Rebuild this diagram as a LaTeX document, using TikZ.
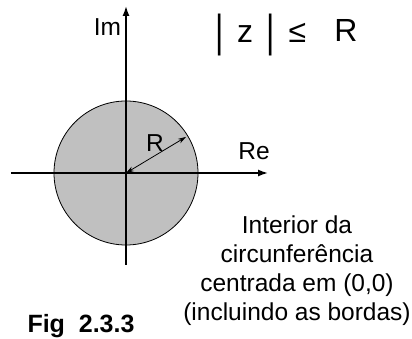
\documentclass[tikz,border=0pt]{standalone}
\usepackage{fontspec}
\setmainfont{Liberation Sans}
\usetikzlibrary{arrows.meta}
\definecolor{discgray}{RGB}{192,192,192}
\begin{document}
\begin{tikzpicture}[x=1pt, y=1pt, every node/.style={inner sep=0pt},
  axis/.style={line width=1.5pt, -{Latex[length=10pt,width=7pt]}},
  lbl/.style={font=\fontsize{24.5}{29}\selectfont},
  big/.style={font=\fontsize{32}{36}\selectfont, anchor=base}]
  \useasboundingbox (-126,-166) rectangle (286,173);
  % disc |z| <= R
  \coordinate (O) at (0,0);
  \filldraw[fill=discgray, draw=black, line width=0.8pt] (O) circle (72);
  % axes
  \coordinate (xl) at (-115,0);
  \coordinate (xr) at (142,0);
  \coordinate (yb) at (0,-92);
  \coordinate (yt) at (0,167);
  \draw[axis] (xl) -- (xr);
  \draw[axis] (yb) -- (yt);
  % radius
  \coordinate (rim) at (31:70);
  \draw[line width=0.8pt, {Stealth[length=8pt,width=5pt]}-{Stealth[length=8pt,width=5pt]}] (O) -- (rim);
  \node[lbl] (rlab) at (29,29.5) {R};
  \node[lbl] (re) at (128,22) {Re};
  \node[lbl] (im) at (-18.5,146) {Im};
  % formula
  \node[big] (bar1) at (94,126) {\scalebox{1}[1.4]{|}};
  \node[big] (zed) at (119,130) {z};
  \node[big] (bar2) at (145,126) {\scalebox{1}[1.4]{|}};
  \node[big] (leq) at (171.5,130) {≤};
  \node[big] (rad) at (220,131) {R};
  % caption
  \node[lbl, align=center, anchor=north] (txt) at (171,-43)
    {Interior da\\circunferência\\centrada em (0,0)\\(incluindo as bordas)};
  \node[font=\fontsize{25}{29}\selectfont\bfseries, anchor=base] (fig) at (-45,-160) {Fig\ \ 2.3.3};
\end{tikzpicture}
\end{document}
